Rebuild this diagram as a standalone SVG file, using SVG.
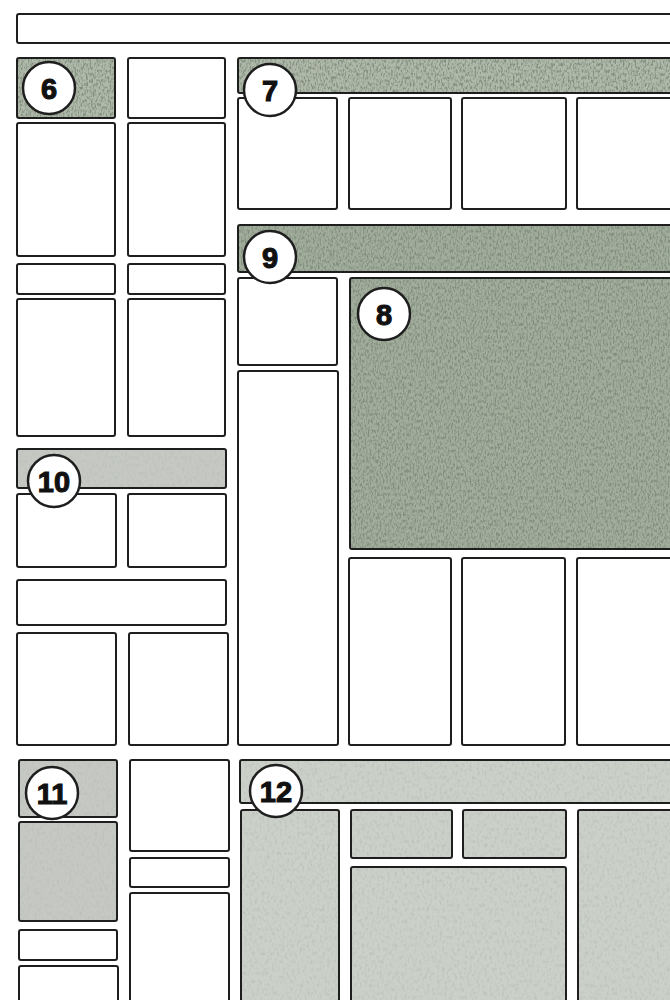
<svg xmlns="http://www.w3.org/2000/svg" width="670" height="1000" viewBox="0 0 670 1000">
<defs>
<filter id="grain" x="0" y="0" width="100%" height="100%">
<feTurbulence type="fractalNoise" baseFrequency="0.6 0.3" numOctaves="3" seed="7" result="n"/>
<feColorMatrix in="n" type="matrix" values="0 0 0 0 0.22  0 0 0 0 0.27  0 0 0 0 0.21  0 0 0 -3.2 1.85" result="specks"/>
<feComposite in="specks" in2="SourceGraphic" operator="in" result="cs"/>
<feMerge><feMergeNode in="SourceGraphic"/><feMergeNode in="cs"/></feMerge>
</filter>
<filter id="grainLight" x="0" y="0" width="100%" height="100%">
<feTurbulence type="fractalNoise" baseFrequency="0.4 0.25" numOctaves="2" seed="11" result="n"/>
<feColorMatrix in="n" type="matrix" values="0 0 0 0 0.48  0 0 0 0 0.52  0 0 0 0 0.48  0 0 0 -2.2 1.15" result="specks"/>
<feComposite in="specks" in2="SourceGraphic" operator="in" result="cs"/>
<feMerge><feMergeNode in="SourceGraphic"/><feMergeNode in="cs"/></feMerge>
</filter>
</defs>
<style>
.b{fill:#ffffff;stroke:#1e1e1e;stroke-width:2}
.g{fill:#b0baaa;filter:url(#grain)}
.gd{fill:#a2ad9c;filter:url(#grain)}
.l{fill:#c6c8c3;filter:url(#grainLight)}
.l2{fill:#cbd0c9;filter:url(#grainLight)}
.o{fill:none;stroke:#1e1e1e;stroke-width:2}
.c{fill:#ffffff;stroke:#1e1e1e;stroke-width:2.5}
.t{font-family:"Liberation Sans",Arial,sans-serif;font-weight:bold;font-size:29px;fill:#111;stroke:#111;stroke-width:1.1;text-anchor:middle}
</style>
<rect width="670" height="1000" fill="#ffffff"/>

<g id="masthead"><rect class="b" x="17" y="14" width="680" height="29" rx="2"/></g>

<g id="left-columns">
<rect class="b" x="128" y="58" width="97" height="60" rx="2"/>
<rect class="b" x="17" y="123" width="98" height="133" rx="2"/>
<rect class="b" x="128" y="123" width="97" height="133" rx="2"/>
<rect class="b" x="17" y="264" width="98" height="30" rx="2"/>
<rect class="b" x="128" y="264" width="97" height="30" rx="2"/>
<rect class="b" x="17" y="299" width="98" height="137" rx="2"/>
<rect class="b" x="128" y="299" width="97" height="137" rx="2"/>
</g>

<g id="node-6">
<rect class="g" x="17" y="58" width="98" height="60"/>
<rect class="o" x="17" y="58" width="98" height="60" rx="2"/>
</g>

<g id="node-7">
<rect class="g" x="238" y="58" width="450" height="35"/>
<rect class="o" x="238" y="58" width="450" height="35" rx="2"/>
<rect class="b" x="238" y="98" width="99" height="111" rx="2"/>
<rect class="b" x="349" y="98" width="102" height="111" rx="2"/>
<rect class="b" x="462" y="98" width="104" height="111" rx="2"/>
<rect class="b" x="577" y="98" width="110" height="111" rx="2"/>
</g>

<g id="node-9">
<rect class="gd" x="238" y="225" width="450" height="47"/>
<rect class="o" x="238" y="225" width="450" height="47" rx="2"/>
<rect class="b" x="238" y="278" width="99" height="87" rx="2"/>
<rect class="b" x="238" y="371" width="100" height="374" rx="2"/>
</g>

<g id="node-8">
<rect class="gd" x="350" y="278" width="340" height="271"/>
<rect class="o" x="350" y="278" width="340" height="271" rx="2"/>
<rect class="b" x="349" y="558" width="102" height="187" rx="2"/>
<rect class="b" x="462" y="558" width="103" height="187" rx="2"/>
<rect class="b" x="577" y="558" width="110" height="187" rx="2"/>
</g>

<g id="node-10">
<rect class="l" x="17" y="449" width="209" height="39"/>
<rect class="o" x="17" y="449" width="209" height="39" rx="2"/>
<rect class="b" x="17" y="494" width="99" height="73" rx="2"/>
<rect class="b" x="128" y="494" width="98" height="73" rx="2"/>
<rect class="b" x="17" y="580" width="209" height="45" rx="2"/>
<rect class="b" x="17" y="633" width="99" height="112" rx="2"/>
<rect class="b" x="129" y="633" width="99" height="112" rx="2"/>
</g>

<g id="node-11">
<rect class="l" x="19" y="760" width="98" height="57"/>
<rect class="o" x="19" y="760" width="98" height="57" rx="2"/>
<rect class="l" x="19" y="822" width="98" height="99"/>
<rect class="o" x="19" y="822" width="98" height="99" rx="2"/>
<rect class="b" x="19" y="930" width="98" height="30" rx="2"/>
<rect class="b" x="19" y="966" width="99" height="50" rx="2"/>
<rect class="b" x="130" y="760" width="99" height="91" rx="2"/>
<rect class="b" x="130" y="858" width="99" height="29" rx="2"/>
<rect class="b" x="130" y="893" width="99" height="120" rx="2"/>
</g>

<g id="node-12">
<rect class="l2" x="240" y="760" width="450" height="43"/>
<rect class="o" x="240" y="760" width="450" height="43" rx="2"/>
<rect class="l2" x="241" y="810" width="98" height="200"/>
<rect class="o" x="241" y="810" width="98" height="200" rx="2"/>
<rect class="l2" x="351" y="810" width="101" height="48"/>
<rect class="o" x="351" y="810" width="101" height="48" rx="2"/>
<rect class="l2" x="463" y="810" width="103" height="48"/>
<rect class="o" x="463" y="810" width="103" height="48" rx="2"/>
<rect class="l2" x="351" y="867" width="215" height="143"/>
<rect class="o" x="351" y="867" width="215" height="143" rx="2"/>
<rect class="l2" x="578" y="810" width="110" height="200"/>
<rect class="o" x="578" y="810" width="110" height="200" rx="2"/>
</g>

<g id="connectors"></g>

<g id="labels">
<g id="label-6"><circle class="c" cx="49" cy="88" r="26"/><text class="t" x="49" y="98.5">6</text></g>
<g id="label-7"><circle class="c" cx="270" cy="90" r="26"/><text class="t" x="270" y="100.5">7</text></g>
<g id="label-9"><circle class="c" cx="270" cy="257" r="26"/><text class="t" x="270" y="267.5">9</text></g>
<g id="label-8"><circle class="c" cx="384" cy="314" r="26"/><text class="t" x="384" y="324.5">8</text></g>
<g id="label-10"><circle class="c" cx="54" cy="481" r="26"/><text class="t" x="54" y="491.5">10</text></g>
<g id="label-11"><circle class="c" cx="52" cy="793" r="26"/><text class="t" x="52" y="803.5">11</text></g>
<g id="label-12"><circle class="c" cx="276" cy="791" r="26"/><text class="t" x="276" y="801.5">12</text></g>
</g>
</svg>
